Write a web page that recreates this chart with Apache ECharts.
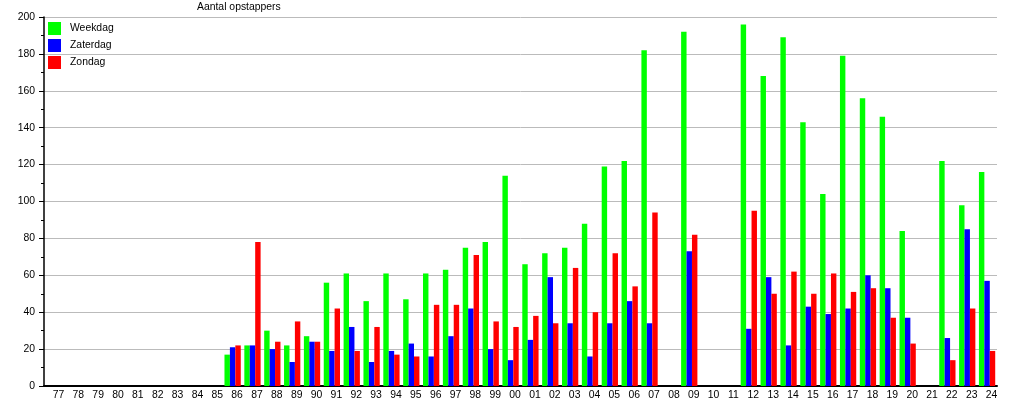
<!DOCTYPE html>
<html>
<head>
<meta charset="utf-8">
<script src="https://cdn.jsdelivr.net/npm/echarts@6/dist/echarts.min.js"></script>
<style>
  html, body { margin: 0; padding: 0; background: #fff; }
  #chart { width: 1015px; height: 400px; }
</style>
</head>
<body>
<div id="chart"></div>
<script>
const years = ['77','78','79','80','81','82','83','84','85','86','87','88','89','90','91','92','93','94','95','96','97','98','99',
  '00','01','02','03','04','05','06','07','08','09','10','11','12','13','14','15','16','17','18','19','20','21','22','23','24']

// null = geen gegevens
const weekdag = [null,null,null,null,null,null,null,null,null,17,22,30,22,27,56,61,46,61,47,61,63,75,78,
  114,66,72,75,88,119,122,182,null,192,null,null,196,168,189,143,104,179,156,146,84,null,122,98,116]
const zaterdag = [null,null,null,null,null,null,null,null,null,21,22,20,13,24,19,32,13,19,23,16,27,42,20,
  14,25,59,34,16,34,46,34,null,73,null,null,31,59,22,43,39,42,60,53,37,null,26,85,57]
const zondag = [null,null,null,null,null,null,null,null,null,22,78,24,35,24,42,19,32,17,16,44,44,71,35,
  32,38,34,64,40,72,54,94,null,82,null,null,95,50,62,50,61,51,53,37,23,null,14,42,19]

const font = 'Liberation Sans, Arial, sans-serif'
const fs = 10.4

var myChart = echarts.init(document.getElementById('chart'))
var option = {
  animation: false,
  title: {
    text: 'Aantal opstappers',
    left: 197,
    top: 2,
    padding: 0,
    textStyle: { fontSize: fs, fontWeight: 'normal', color: '#000', fontFamily: font }
  },
  legend: {
    orient: 'vertical',
    left: 48,
    top: 22,
    itemWidth: 13,
    itemHeight: 13,
    itemGap: 4,
    padding: 0,
    textStyle: { fontSize: fs, color: '#000', fontFamily: font, padding: [0, 0, 0, 4] },
    data: [
      { name: 'Weekdag', icon: 'rect' },
      { name: 'Zaterdag', icon: 'rect' },
      { name: 'Zondag', icon: 'rect' }
    ]
  },
  grid: { left: 44, right: 18, top: 17, bottom: 13, containLabel: false },
  xAxis: {
    type: 'category',
    data: years,
    axisLine: { lineStyle: { color: '#000', width: 2 } },
    axisTick: { show: false },
    axisLabel: {
      interval: 0,
      margin: 4,
      fontSize: fs,
      color: '#000',
      fontFamily: font,
      padding: [0, 0, 0, 9]
    },
    splitLine: { show: false }
  },
  yAxis: {
    type: 'value',
    min: 0,
    max: 200,
    interval: 20,
    axisLine: { show: true, lineStyle: { color: '#000', width: 1.5 } },
    axisTick: { show: true, length: 5, lineStyle: { color: '#000' } },
    minorTick: { show: true, splitNumber: 2, length: 3, lineStyle: { color: '#000' } },
    axisLabel: { fontSize: fs, color: '#000', fontFamily: font, margin: 9 },
    splitLine: { lineStyle: { color: '#bbbbbb', width: 1 } }
  },
  series: [
    { name: 'Weekdag', type: 'bar', data: weekdag, itemStyle: { color: '#00ff00' }, barGap: '0%', barCategoryGap: '18%' },
    { name: 'Zaterdag', type: 'bar', data: zaterdag, itemStyle: { color: '#0000ff' }, barGap: '0%', barCategoryGap: '18%' },
    { name: 'Zondag', type: 'bar', data: zondag, itemStyle: { color: '#ff0000' }, barGap: '0%', barCategoryGap: '18%' }
  ]
}
myChart.setOption(option)
</script>
</body>
</html>
